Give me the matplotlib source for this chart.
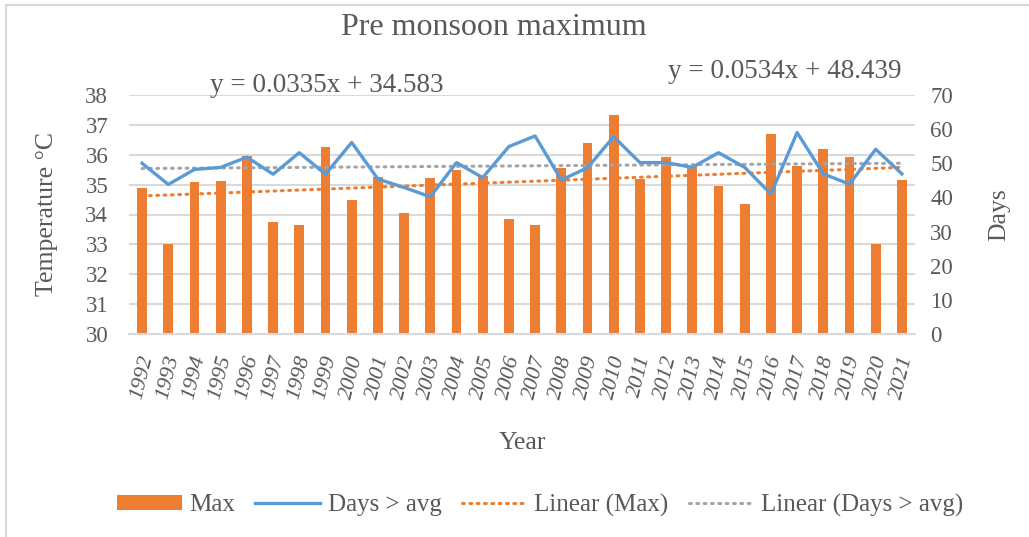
import matplotlib
matplotlib.use("Agg")
import matplotlib.pyplot as plt
import numpy as np
from matplotlib.patches import Rectangle

years = [str(y) for y in range(1992, 2022)]
max_temp = [34.88, 33.0, 35.09, 35.13, 35.95, 33.75, 33.66, 36.25, 34.48, 35.27,
            34.04, 35.22, 35.48, 35.28, 33.85, 33.66, 35.57, 36.4, 37.34, 35.19,
            35.92, 35.63, 34.95, 34.34, 36.71, 35.63, 36.19, 35.93, 33.01, 35.17]
days_avg = [50.0, 43.8, 48.2, 48.8, 51.8, 46.8, 53.1, 46.8, 56.1, 45.4,
            42.9, 40.2, 50.2, 45.8, 54.9, 58.0, 45.1, 48.7, 57.8, 50.2,
            50.2, 48.8, 53.1, 48.8, 41.0, 59.0, 46.9, 43.9, 54.1, 46.9]
eq_max = "y = 0.0335x + 34.583"
eq_days = "y = 0.0534x + 48.439"

orange = "#ED7D31"
blue = "#5B9BD5"
gray = "#A5A5A5"
txt = "#595959"
grid = "#D9D9D9"

plt.rcParams['font.family'] = ['Liberation Serif', 'DejaVu Serif']

fig = plt.figure(figsize=(10.29, 5.37), dpi=100)
ax = fig.add_axes([129/1029, 1 - 334/537, 786/1029, 239/537])
ax2 = ax.twinx()

idx = np.arange(len(years))
t = idx + 1.0

ax.bar(idx, max_temp, 0.38, color=orange, label="Max", zorder=2)
ax2.plot(idx, days_avg, color=blue, lw=2.4, label="Days > avg", zorder=3)

# linear trend lines, fitted on the series like Excel does
p1 = np.polyfit(t, max_temp, 1)
p2 = np.polyfit(t, days_avg, 1)
ax.plot(idx, np.polyval(p1, t), color=orange, lw=2.2, linestyle=(0, (0.6, 1.8)),
        dash_capstyle='round', label="Linear (Max)", zorder=4)
ax2.plot(idx, np.polyval(p2, t), color=gray, lw=2.2, linestyle=(0, (0.6, 1.8)),
         dash_capstyle='round', label="Linear (Days > avg)", zorder=2)

ax.set_ylim(30, 38)
ax.set_yticks(range(30, 39))
ax2.set_ylim(0, 70)
ax2.set_yticks(range(0, 71, 10))
ax.set_xlim(-0.5, len(years) - 0.5)
ax.set_xticks(idx)
ax.set_xticklabels(years, rotation=76, style='italic', fontsize=16, color=txt)

ax.yaxis.grid(True, color=grid, lw=1.5, zorder=0)
ax.set_axisbelow(True)
for a in (ax, ax2):
    for s in a.spines.values():
        s.set_visible(False)
    a.tick_params(length=0, labelsize=16.5, labelcolor=txt)
ax.spines['bottom'].set_visible(True)
ax.spines['bottom'].set_color(grid)
ax.spines['bottom'].set_linewidth(1.5)
ax.tick_params(axis='x', labelsize=16)
ax.tick_params(axis='y', pad=15)
ax.tick_params(axis='x', pad=14)
ax2.tick_params(axis='y', pad=11)

ax.set_ylabel("Temperature °C", fontsize=18.5, color=txt)
ax.yaxis.set_label_coords(-0.09, 0.5)
ax2.set_ylabel("Days", fontsize=18.5, color=txt)
ax2.yaxis.set_label_coords(1.093, 0.5)
ax.set_xlabel("Year", fontsize=18.5, color=txt)
ax.xaxis.set_label_coords(0.5, -0.41)

fig.text(494/1029, 1 - 28/537, "Pre monsoon maximum", fontsize=23, color=txt,
         ha='center', va='center')
fig.text(210/1029, 1 - 86/537, eq_max, fontsize=19.5, color=txt, ha='left', va='center')
fig.text(668/1029, 1 - 72/537, eq_days, fontsize=19.5, color=txt, ha='left', va='center')

h1, l1 = ax.get_legend_handles_labels()
h2, l2 = ax2.get_legend_handles_labels()
hand = [h1[1], h2[0], h1[0], h2[1]]
labs = [l1[1], l2[0], l1[0], l2[1]]
fig.legend(hand, labs, loc='center', bbox_to_anchor=(0.525, 1 - 505/537), ncol=4,
           frameon=False, fontsize=18, labelcolor=txt, handlelength=2.6,
           handleheight=0.55, handletextpad=0.3, columnspacing=0.8)

fig.patches.append(Rectangle((6/1029, -0.1), 1.2, 1 - 5/537 + 0.1, transform=fig.transFigure,
                             fill=False, edgecolor=grid, lw=1.5, clip_on=False))

fig.savefig("out.png", dpi=100)
